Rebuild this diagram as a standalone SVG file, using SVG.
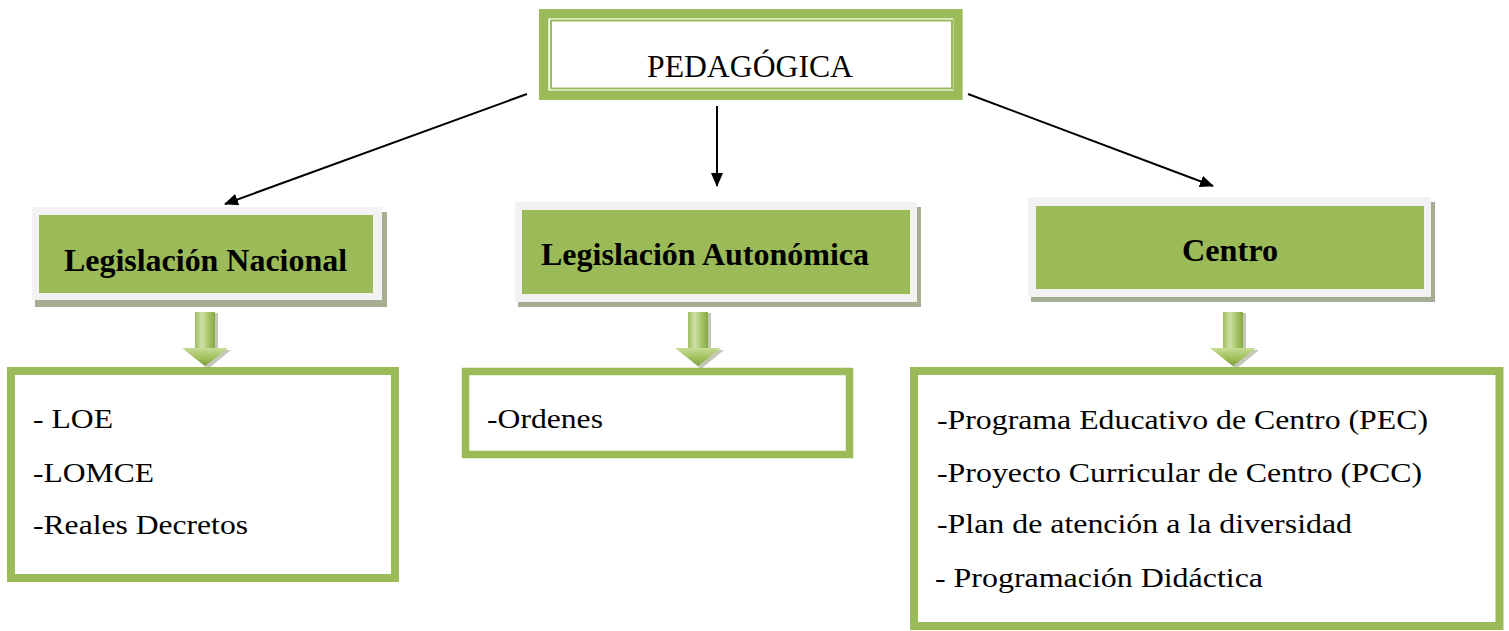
<svg xmlns="http://www.w3.org/2000/svg" width="1509" height="631" viewBox="0 0 1509 631">
  <style>
    text { font-family: "Liberation Serif", Tinos, "Nimbus Roman", "Times New Roman", Times, serif; fill: #000; }
    .title { font-size: 32px; }
    .head { font-size: 32px; font-weight: bold; }
    .item { font-size: 27px; }
    .frame { fill: #f2f2f2; }
    .shadow { fill: #a5ad92; }
    .green { fill: #9bbb59; }
    .listbox { fill: #ffffff; stroke: #9bbb59; stroke-width: 8; }
    .conn { stroke: #000; stroke-width: 2; fill: none; marker-end: url(#ah); }
  </style>
  <defs>
    <marker id="ah" viewBox="0 0 14 12" refX="13" refY="6" markerWidth="14" markerHeight="12" markerUnits="userSpaceOnUse" orient="auto">
      <path d="M0,0 L14,6 L0,12 Z" fill="#000"/>
    </marker>
    <linearGradient id="arrowGrad" x1="0" y1="0" x2="1" y2="0">
      <stop offset="0" stop-color="#9fbf5e"/>
      <stop offset="0.35" stop-color="#cfe0a8"/>
      <stop offset="0.65" stop-color="#a9c76c"/>
      <stop offset="1" stop-color="#86a845"/>
    </linearGradient>
    <linearGradient id="headGrad" x1="0" y1="0" x2="0" y2="1">
      <stop offset="0" stop-color="#c6dc95"/>
      <stop offset="0.6" stop-color="#9dbe58"/>
      <stop offset="1" stop-color="#7f9e44"/>
    </linearGradient>
    <g id="downArrow">
      <path d="M-7,313 L13,313 L13,350 L26,350 L3,369 L-20,350 L-7,350 Z" fill="#8f9a78" opacity="0.55"/>
      <rect x="-10" y="312" width="20" height="37" fill="url(#arrowGrad)"/>
      <path d="M-23,348 L23,348 L0,366 Z" fill="url(#headGrad)"/>
    </g>
  </defs>

  <!-- Connectors -->
  <g id="connectors">
    <line class="conn" x1="527" y1="94" x2="225" y2="204"/>
    <line class="conn" x1="717" y1="106" x2="717" y2="186"/>
    <line class="conn" x1="968" y1="94" x2="1213" y2="186"/>
  </g>

  <!-- Top node -->
  <g id="node-pedagogica">
    <rect x="543.7" y="13.7" width="414.3" height="81.6" fill="#ffffff" stroke="#9bbb59" stroke-width="9.3"/>
    <rect x="551" y="20.5" width="401" height="68" fill="none" stroke="#9bbb59" stroke-width="2"/>
    <text class="title" x="647" y="77" textLength="206" lengthAdjust="spacingAndGlyphs" font-family="'Liberation Serif', Tinos, 'Times New Roman', serif">PEDAGÓGICA</text>
  </g>

  <!-- Legislación Nacional -->
  <g id="node-nacional">
    <rect class="shadow" x="35" y="212" width="352" height="95"/>
    <rect class="frame" x="32" y="207" width="350" height="93"/>
    <rect class="green" x="39" y="215" width="334" height="78"/>
    <text class="head" x="64" y="271" textLength="283" lengthAdjust="spacingAndGlyphs" font-family="'Liberation Serif', Tinos, 'Times New Roman', serif">Legislación Nacional</text>
  </g>

  <!-- Legislación Autonómica -->
  <g id="node-autonomica">
    <rect class="shadow" x="518" y="207" width="403" height="100"/>
    <rect class="frame" x="515" y="202" width="402" height="100"/>
    <rect class="green" x="522" y="210" width="388" height="84"/>
    <text class="head" x="541" y="265" textLength="328" lengthAdjust="spacingAndGlyphs" font-family="'Liberation Serif', Tinos, 'Times New Roman', serif">Legislación Autonómica</text>
  </g>

  <!-- Centro -->
  <g id="node-centro">
    <rect class="shadow" x="1031" y="202" width="404" height="100"/>
    <rect class="frame" x="1028" y="197" width="403" height="100"/>
    <rect class="green" x="1036" y="206" width="388" height="83"/>
    <text class="head" x="1182" y="261" textLength="96" lengthAdjust="spacingAndGlyphs" font-family="'Liberation Serif', Tinos, 'Times New Roman', serif">Centro</text>
  </g>

  <!-- Block arrows -->
  <g id="arrow-nacional"><use href="#downArrow" transform="translate(205,0)"/></g>
  <g id="arrow-autonomica"><use href="#downArrow" transform="translate(698,0)"/></g>
  <g id="arrow-centro"><use href="#downArrow" transform="translate(1233,0)"/></g>

  <!-- List: Nacional -->
  <g id="list-nacional">
    <rect class="listbox" x="11" y="371" width="384" height="207"/>
    <text class="item" x="33" y="428" textLength="80" lengthAdjust="spacingAndGlyphs" font-family="'Liberation Serif', Tinos, 'Times New Roman', serif">- LOE</text>
    <text class="item" x="33" y="482" textLength="121" lengthAdjust="spacingAndGlyphs" font-family="'Liberation Serif', Tinos, 'Times New Roman', serif">-LOMCE</text>
    <text class="item" x="33" y="534" textLength="215" lengthAdjust="spacingAndGlyphs" font-family="'Liberation Serif', Tinos, 'Times New Roman', serif">-Reales Decretos</text>
  </g>

  <!-- List: Autonómica -->
  <g id="list-autonomica">
    <rect class="listbox" x="465.5" y="371.5" width="384" height="83" style="stroke-width:7.5"/>
    <text class="item" x="487" y="428" textLength="116" lengthAdjust="spacingAndGlyphs" font-family="'Liberation Serif', Tinos, 'Times New Roman', serif">-Ordenes</text>
  </g>

  <!-- List: Centro -->
  <g id="list-centro">
    <rect class="listbox" x="914" y="371" width="585.5" height="255"/>
    <text class="item" x="937" y="429" textLength="491" lengthAdjust="spacingAndGlyphs" font-family="'Liberation Serif', Tinos, 'Times New Roman', serif">-Programa Educativo de Centro (PEC)</text>
    <text class="item" x="937" y="482" textLength="485" lengthAdjust="spacingAndGlyphs" font-family="'Liberation Serif', Tinos, 'Times New Roman', serif">-Proyecto Curricular de Centro (PCC)</text>
    <text class="item" x="937" y="533" textLength="415" lengthAdjust="spacingAndGlyphs" font-family="'Liberation Serif', Tinos, 'Times New Roman', serif">-Plan de atención a la diversidad</text>
    <text class="item" x="935" y="587" textLength="328" lengthAdjust="spacingAndGlyphs" font-family="'Liberation Serif', Tinos, 'Times New Roman', serif">- Programación Didáctica</text>
  </g>
</svg>
